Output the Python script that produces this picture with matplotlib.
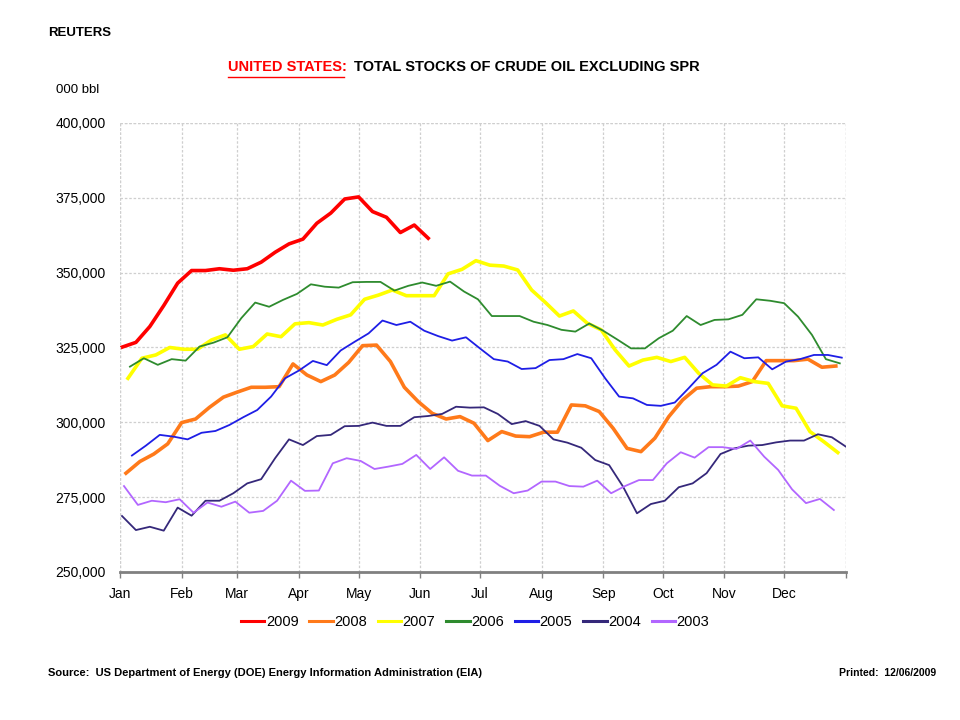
import matplotlib
matplotlib.use("Agg")
import matplotlib.pyplot as plt
from matplotlib.ticker import FuncFormatter
import numpy as np

plt.rcParams['font.family'] = ['Liberation Sans', 'DejaVu Sans']

# Weekly stocks, thousand barrels (values in thousands of kbbl)
v2009 = [325.1, 326.7, 332.0, 339.0, 346.5, 350.7, 350.7, 351.3, 350.8, 351.3, 353.5, 356.8,
         359.6, 361.2, 366.5, 369.9, 374.6, 375.3, 370.4, 368.5, 363.4, 365.9, 361.5]
v2008 = [283.0, 286.9, 289.4, 292.8, 299.9, 301.1, 305.0, 308.4, 310.1, 311.7, 311.7, 311.9,
         319.5, 315.8, 313.6, 315.8, 320.0, 325.6, 325.8, 320.3, 311.7, 306.9, 303.0, 301.1,
         301.9, 299.7, 293.9, 296.9, 295.4, 295.2, 296.7, 296.7, 305.8, 305.5, 303.6, 298.0,
         291.3, 290.2, 294.7, 301.9, 307.5, 311.4, 311.9, 311.9, 312.1, 313.6, 320.6, 320.6,
         320.6, 321.1, 318.4, 318.8]
v2007 = [314.7, 321.4, 322.5, 325.0, 324.4, 324.4, 327.5, 329.2, 324.4, 325.3, 329.5, 328.6,
         332.9, 333.3, 332.5, 334.4, 335.9, 341.1, 342.5, 344.2, 342.3, 342.3, 342.3, 349.6,
         351.1, 354.0, 352.5, 352.2, 350.9, 344.2, 340.0, 335.5, 337.2, 333.1, 330.9, 324.2,
         318.8, 320.8, 321.7, 320.3, 321.7, 316.4, 312.5, 312.1, 314.9, 313.6, 313.0, 305.5,
         304.7, 296.9, 293.5, 289.9]
v2006 = [318.6, 321.4, 319.2, 321.1, 320.6, 325.3, 326.6, 328.4, 334.8, 340.0, 338.6, 340.9,
         342.9, 346.1, 345.3, 345.0, 346.8, 346.9, 346.9, 344.0, 345.6, 346.7, 345.6, 347.0,
         343.7, 341.1, 335.5, 335.5, 335.5, 333.6, 332.5, 330.9, 330.3, 333.0, 330.6, 327.7,
         324.7, 324.7, 328.1, 330.6, 335.5, 332.5, 334.2, 334.4, 335.9, 341.1, 340.6, 339.8,
         335.3, 329.2, 321.1, 319.7]
v2005 = [288.9, 292.2, 295.8, 295.2, 294.3, 296.5, 297.1, 299.1, 301.7, 304.1, 308.6, 314.7,
         317.3, 320.5, 319.1, 324.0, 326.9, 329.7, 334.0, 332.5, 333.6, 330.6, 328.8, 327.3,
         328.4, 324.7, 321.1, 320.3, 317.8, 318.1, 320.8, 321.1, 322.8, 321.4, 314.7, 308.6,
         308.0, 305.8, 305.5, 306.6, 311.4, 316.4, 319.2, 323.6, 321.4, 321.7, 317.7, 320.3,
         321.1, 322.5, 322.5, 321.6]
v2004 = [268.7, 264.0, 265.1, 263.8, 271.5, 268.8, 273.8, 273.8, 276.3, 279.6, 281.0, 288.0,
         294.3, 292.4, 295.4, 295.8, 298.7, 298.8, 299.9, 298.8, 298.8, 301.7, 302.1, 302.8,
         305.2, 304.9, 305.0, 302.8, 299.4, 300.4, 298.8, 294.3, 293.2, 291.5, 287.4, 285.7,
         278.5, 269.6, 272.7, 273.8, 278.3, 279.6, 283.0, 289.4, 291.3, 292.2, 292.4, 293.3,
         293.9, 293.9, 296.0, 295.0, 291.9]
v2003 = [278.7, 272.4, 273.8, 273.3, 274.3, 269.8, 273.2, 271.8, 273.5, 269.8, 270.4, 273.8,
         280.5, 277.1, 277.2, 286.3, 288.0, 287.1, 284.4, 285.2, 286.1, 289.1, 284.4, 288.3,
         283.8, 282.2, 282.2, 278.8, 276.3, 277.2, 280.2, 280.2, 278.7, 278.5, 280.5, 276.3,
         278.7, 280.7, 280.7, 286.3, 290.0, 288.2, 291.7, 291.7, 291.1, 293.9, 288.5, 284.1,
         277.6, 273.0, 274.4, 270.7]

years = ['2009', '2008', '2007', '2006', '2005', '2004', '2003']
values = [v2009, v2008, v2007, v2006, v2005, v2004, v2003]
# day of year (0-based) of first weekly report in each year
start_day = [1, 3, 4, 5, 6, 1, 2]
colors = ['#FF0000', '#FF7A1A', '#FFFF00', '#2E8B2E', '#1E1EE6', '#35287A', '#B266FF']
widths = [2.6, 2.6, 2.6, 1.3, 1.3, 1.3, 1.3]

months = ['Jan', 'Feb', 'Mar', 'Apr', 'May', 'Jun', 'Jul', 'Aug', 'Sep', 'Oct', 'Nov', 'Dec']
month_start = [0, 31, 59, 90, 120, 151, 181, 212, 243, 273, 304, 334]

fig = plt.figure(figsize=(9.6, 7.2), dpi=100)
ax = fig.add_axes([0.125, 0.2056, 0.756, 0.6236])

for yr, vals, sd, c, w in zip(years, values, start_day, colors, widths):
    x = sd + 7 * np.arange(len(vals))
    ax.plot(x, np.array(vals) * 1000, color=c, lw=w, label=yr, solid_joinstyle='round')

ax.set_xlim(0, 365)
ax.set_ylim(250000, 400000)
ax.set_yticks(np.arange(250000, 400001, 25000))
ax.yaxis.set_major_formatter(FuncFormatter(lambda v, p: f'{int(v):,}'))
ax.set_xticks(month_start + [365])
ax.set_xticklabels(months + [''])
ax.tick_params(axis='y', length=0, labelsize=10, pad=10)
ax.tick_params(axis='x', length=4, color='#808080', width=1, labelsize=10, pad=7, direction='out')

gls = (0, (2, 1.5))
ax.grid(True, color='#CFCFCF', linestyle=gls, lw=0.9)
for s in ['top', 'right', 'left']:
    ax.spines[s].set_visible(False)
ax.spines['bottom'].set_color('#808080')
ax.spines['bottom'].set_linewidth(2)
ax.axvline(0, color='#CFCFCF', linestyle=gls, lw=0.9)
ax.axvline(365, color='#CFCFCF', linestyle=gls, lw=0.9)
ax.axhline(400000, color='#CFCFCF', linestyle=gls, lw=0.9)

leg = fig.legend(loc='center', bbox_to_anchor=(0.495, 0.136), ncol=7, frameon=False,
                 fontsize=10.5, handlelength=1.6, handletextpad=0.1, columnspacing=0.75)
for h in leg.get_lines():
    h.set_linewidth(2.2)

fig.text(0.05, 0.954, 'REUTERS', fontsize=9.5, fontweight='bold', va='center')
t1 = fig.text(0.238, 0.907, 'UNITED STATES:', fontsize=10.5, fontweight='bold', color='#FF0000',
              va='center')
fig.canvas.draw()
bb = t1.get_window_extent()
x_end = bb.x1 / fig.bbox.width
fig.text(x_end + 0.007, 0.907, 'TOTAL STOCKS OF CRUDE OIL EXCLUDING SPR', fontsize=10.5,
         fontweight='bold', va='center')
ax_u = fig.add_axes([0, 0, 1, 1], facecolor='none')
ax_u.set_axis_off()
ax_u.set_xlim(0, 1); ax_u.set_ylim(0, 1)
ax_u.plot([0.238, x_end - 0.004], [0.893, 0.893], color='#FF0000', lw=1)
fig.text(0.058, 0.875, '000 bbl', fontsize=9.5, va='center')
fig.text(0.05, 0.065, 'Source:  US Department of Energy (DOE) Energy Information Administration (EIA)',
         fontsize=8, fontweight='bold', va='center')
fig.text(0.975, 0.065, 'Printed:  12/06/2009', fontsize=7.5, fontweight='bold', va='center', ha='right')

fig.savefig('out.png', dpi=100)
